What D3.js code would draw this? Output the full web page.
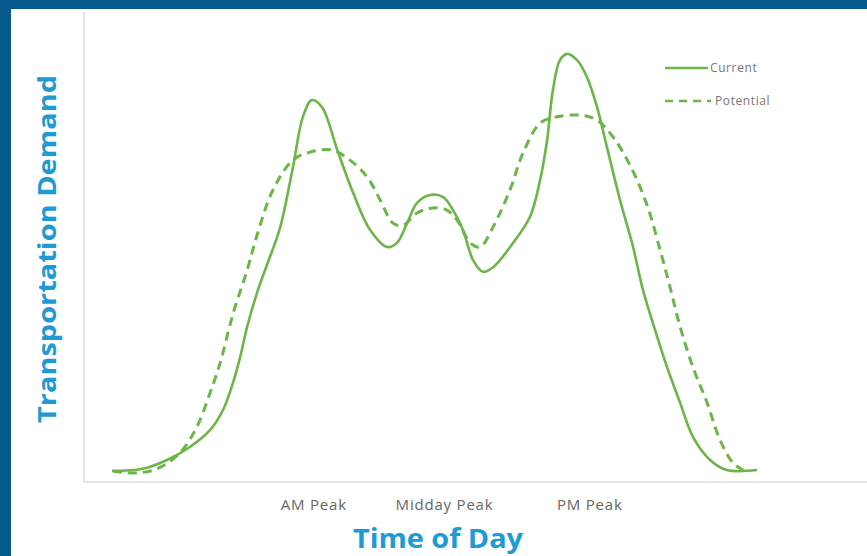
<!DOCTYPE html>
<html>
<head>
<meta charset="utf-8">
<script src="https://cdn.jsdelivr.net/npm/d3@7"></script>
<style>
  html, body { margin: 0; padding: 0; background: #ffffff; }
  svg { display: block; }
</style>
</head>
<body>
<svg id="chart" width="867" height="556"></svg>
<script>
// Hour of day and relative demand for each profile
const currentHours = [1.07, 2.13, 2.96, 3.75, 4.44, 4.89, 5.23, 5.48, 5.72, 6.06, 6.40, 6.85, 7.30, 7.64, 7.95, 8.30, 8.82, 9.37, 9.95, 10.54, 10.88, 11.23, 11.57, 12.02, 12.47, 12.81, 13.15, 13.50, 13.84, 14.19, 14.88, 15.46, 15.81, 16.05, 16.25, 16.49, 16.74, 17.08, 17.42, 17.77, 18.11, 18.56, 19.01, 19.35, 19.77, 20.18, 20.63, 21.07, 21.66, 22.24, 23.28];
const currentDemand = [0.5, 1.0, 3.1, 6.2, 10.2, 15.0, 21.4, 27.6, 34.8, 42.9, 49.5, 58.3, 72.9, 84.8, 88.8, 87.1, 77.0, 66.7, 57.9, 53.8, 54.8, 59.5, 64.3, 66.2, 65.7, 62.6, 57.9, 50.7, 47.9, 49.0, 54.8, 61.0, 69.8, 79.3, 91.2, 98.3, 99.8, 98.3, 94.3, 87.1, 77.6, 65.0, 53.8, 43.6, 34.0, 25.2, 16.7, 8.6, 3.1, 0.7, 0.7];

const potentialHours = [1.10, 1.86, 2.62, 3.41, 3.99, 4.44, 4.79, 5.23, 5.72, 6.06, 6.61, 7.30, 7.89, 8.64, 9.26, 9.85, 10.30, 10.74, 11.09, 11.57, 12.12, 12.60, 12.95, 13.40, 13.74, 14.19, 14.77, 15.22, 15.81, 16.39, 17.18, 17.77, 18.32, 18.91, 19.49, 19.94, 20.28, 20.63, 21.07, 21.56, 22.00, 22.45, 22.80];
const potentialDemand = [0.5, 0.0, 1.0, 4.8, 11.0, 19.0, 26.2, 37.8, 48.3, 56.6, 67.4, 74.5, 76.4, 76.9, 74.5, 70.5, 65.0, 59.5, 59.0, 61.9, 63.1, 62.6, 60.2, 54.8, 53.8, 58.6, 67.4, 76.2, 83.3, 84.8, 85.2, 84.0, 80.0, 73.2, 63.8, 53.1, 44.3, 34.8, 25.2, 16.7, 7.9, 2.4, 0.7];

const tickHours = [8, 12.5, 17.5];
const tickLabels = ["AM Peak", "Midday Peak", "PM Peak"];
const seriesNames = ["Current", "Potential"];

const green = "#6db547";
const svg = d3.select("#chart");

// Frame: dark blue band along the top and left edges
svg.append("rect").attr("x", 0).attr("y", 0).attr("width", 867).attr("height", 9).attr("fill", "#05598c");
svg.append("rect").attr("x", 0).attr("y", 0).attr("width", 11).attr("height", 556).attr("fill", "#05598c");

const x = d3.scaleLinear().domain([0, 24]).range([81, 778]);
const y = d3.scaleLinear().domain([0, 100]).range([473, 53]);

// Axis lines
svg.append("line").attr("x1", 84).attr("x2", 84).attr("y1", 12).attr("y2", 482)
  .attr("stroke", "#e6e6e6").attr("stroke-width", 2);
svg.append("line").attr("x1", 83).attr("x2", 867).attr("y1", 482).attr("y2", 482)
  .attr("stroke", "#e6e6e6").attr("stroke-width", 2);

// Category ticks along the time axis
const xAxis = d3.axisBottom(x)
  .tickValues(tickHours)
  .tickFormat((d, i) => tickLabels[i])
  .tickSize(0)
  .tickPadding(17);
const gx = svg.append("g").attr("transform", "translate(0,482)").call(xAxis);
gx.select(".domain").remove();
gx.selectAll("text")
  .attr("font-family", "'Open Sans', sans-serif")
  .attr("font-size", 15)
  .attr("letter-spacing", 0.8)
  .attr("fill", "#666666");

// Demand curves
const line = d3.line()
  .x(d => x(d[0]))
  .y(d => y(d[1]))
  .curve(d3.curveCatmullRom.alpha(0.5));

const currentPts = currentHours.map((h, i) => [h, currentDemand[i]]);
const potentialPts = potentialHours.map((h, i) => [h, potentialDemand[i]]);

svg.append("path").datum(potentialPts)
  .attr("d", line)
  .attr("fill", "none")
  .attr("stroke", green)
  .attr("stroke-width", 3)
  .attr("stroke-dasharray", "9,6");

svg.append("path").datum(currentPts)
  .attr("d", line)
  .attr("fill", "none")
  .attr("stroke", green)
  .attr("stroke-width", 2.6);

// Legend
const legend = svg.append("g").attr("transform", "translate(665,0)");
const legendRows = [
  { name: seriesNames[0], y: 68, dash: null },
  { name: seriesNames[1], y: 101, dash: "8,6" }
];
legendRows.forEach(r => {
  legend.append("line")
    .attr("x1", 0).attr("x2", r.dash ? 46 : 43)
    .attr("y1", r.y).attr("y2", r.y)
    .attr("stroke", green)
    .attr("stroke-width", 2.6)
    .attr("stroke-dasharray", r.dash);
  legend.append("text")
    .attr("x", r.dash ? 50 : 45)
    .attr("y", r.y)
    .attr("dy", "0.35em")
    .attr("font-family", "'Open Sans', sans-serif")
    .attr("font-size", 12)
    .attr("letter-spacing", 0.6)
    .attr("fill", "#777777")
    .text(r.name);
});

// Axis titles
svg.append("text")
  .attr("x", 438).attr("y", 548)
  .attr("text-anchor", "middle")
  .attr("font-family", "'Open Sans', sans-serif")
  .attr("font-weight", 700)
  .attr("font-size", 26)
  .attr("fill", "#1e9ad6")
  .attr("textLength", 170)
  .attr("lengthAdjust", "spacingAndGlyphs")
  .text("Time of Day");

svg.append("text")
  .attr("transform", "translate(56,249) rotate(-90)")
  .attr("text-anchor", "middle")
  .attr("font-family", "'Open Sans', sans-serif")
  .attr("font-weight", 700)
  .attr("font-size", 25)
  .attr("fill", "#1e9ad6")
  .attr("textLength", 348)
  .attr("lengthAdjust", "spacingAndGlyphs")
  .text("Transportation Demand");
</script>
</body>
</html>
